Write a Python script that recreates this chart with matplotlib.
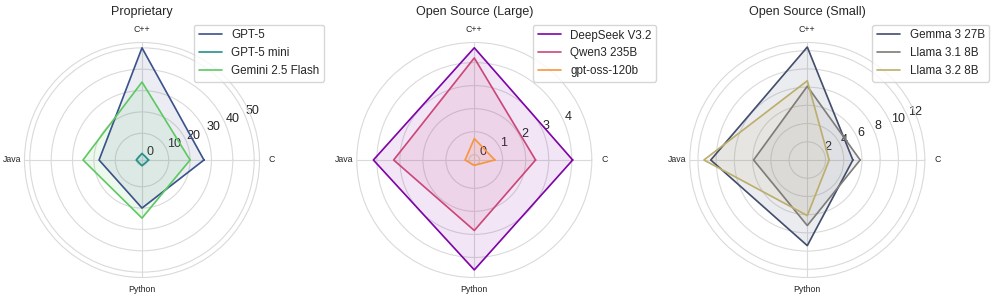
import numpy as np
import matplotlib
matplotlib.use("Agg")
import matplotlib.pyplot as plt
import seaborn as sns

# --- DATA ---------------------------------------------------------------
categories = ["C", "C++", "Java", "Python"]

prop_models = ["GPT-5", "GPT-5 mini", "Gemini 2.5 Flash"]
prop_values = [
    [26.5, 50.0, 17.6, 20.0],   # GPT-5
    [0.6, 0.6, 0.2, 0.2],       # GPT-5 mini
    [20.0, 34.0, 25.1, 24.7],   # Gemini 2.5 Flash
]

large_models = ["DeepSeek V3.2", "Qwen3 235B", "gpt-oss-120b"]
large_values = [
    [4.04, 4.64, 4.15, 4.54],   # DeepSeek V3.2
    [2.43, 4.20, 3.27, 2.83],   # Qwen3 235B
    [0.66, 0.70, 0.17, 0.0],    # gpt-oss-120b
]

small_models = ["Gemma 3 27B", "Llama 3.1 8B", "Llama 3.2 8B"]
small_values = [
    [5.0, 12.4, 10.6, 9.4],     # Gemma 3 27B
    [5.8, 8.1, 5.9, 7.2],       # Llama 3.1 8B
    [2.4, 8.7, 11.35, 6.1],     # Llama 3.2 8B
]

titles = ["Proprietary", "Open Source (Large)", "Open Source (Small)"]
cmaps = ["viridis", "plasma", "cividis"]
rlims = [(-2.5, 52.5), (-0.23, 4.87), None]
# -----------------------------------------------------------------------

sns.set_style("whitegrid")
plt.rcParams["font.family"] = ["Liberation Sans", "DejaVu Sans"]

fig = plt.figure(figsize=(9.96, 2.98), dpi=100)
W, H = 996, 298
radius = 117.5
centers = [142, 474.3, 807.3]
cy = 138

angles = np.linspace(0, 2 * np.pi, len(categories), endpoint=False)
closed = np.concatenate([angles, angles[:1]])

groups = [
    (prop_models, prop_values),
    (large_models, large_values),
    (small_models, small_values),
]

for i, (models, values) in enumerate(groups):
    ax = fig.add_axes([(centers[i] - radius) / W, (cy - radius) / H,
                       2 * radius / W, 2 * radius / H], projection="polar")
    cmap = plt.get_cmap(cmaps[i])
    cols = [cmap(0.25), cmap(0.5), cmap(0.75)]
    for name, vals, c in zip(models, values, cols):
        v = np.concatenate([vals, vals[:1]])
        ax.plot(closed, v, color=c, linewidth=1.2, label=name)
        ax.fill(closed, v, color=c, alpha=0.1)

    if rlims[i] is not None:
        ax.set_ylim(*rlims[i])
    ax.set_thetagrids(np.degrees(angles), categories, fontsize=6.3)
    ax.tick_params(axis="x", pad=-1.5)
    ax.tick_params(axis="y", labelsize=9)
    ax.grid(color="#dadada", linewidth=0.8)
    ax.spines["polar"].set_color("#dadada")
    ax.set_title(titles[i], fontsize=9, pad=7.5)
    ax.legend(loc="upper right", bbox_to_anchor=(1.3, 1.1), fontsize=8.4)

fig.savefig("out.png", dpi=100)
